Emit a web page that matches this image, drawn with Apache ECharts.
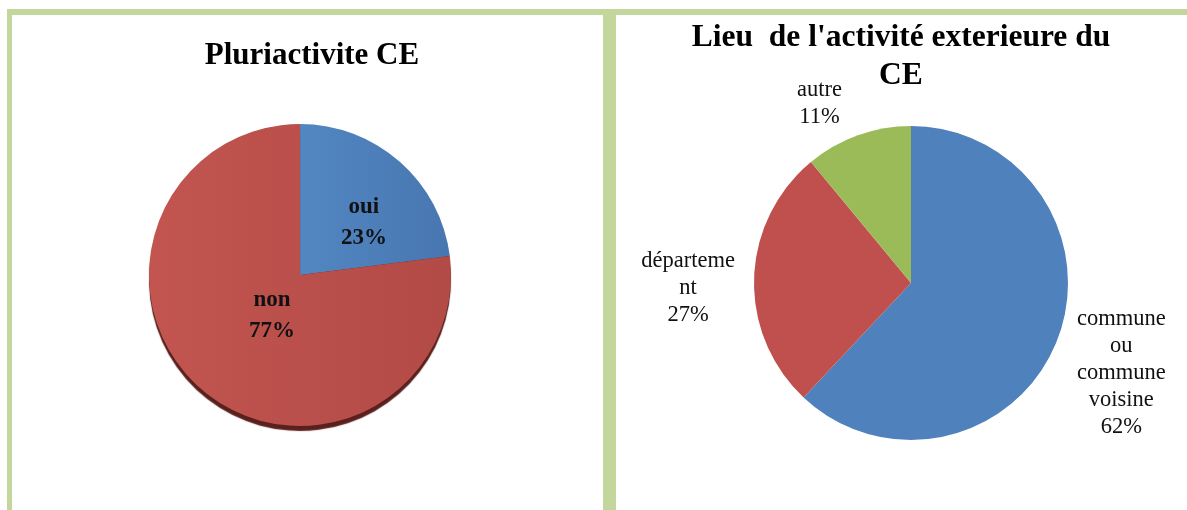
<!DOCTYPE html>
<html><head><meta charset="utf-8">
<script src="https://cdn.jsdelivr.net/npm/echarts@6/dist/echarts.min.js"></script>
<style>html,body{margin:0;padding:0;background:#fff}#c{width:1187px;height:510px}</style>
</head><body><div id="c"></div>
<script>
// ---- data ----
const leftTitle = 'Pluriactivite CE';
const leftCategories = ['oui', 'non'];
const leftValues = [23, 77];

const rightTitle = "Lieu  de l'activité exterieure du\nCE";
const rightCategories = ['commune\nou\ncommune\nvoisine', 'départeme\nnt', 'autre'];
const rightValues = [62, 27, 11];

// ---- styles ----
const SERIF = "'Liberation Serif', 'Times New Roman', 'DejaVu Serif', serif";
const leftColors = [
  new echarts.graphic.LinearGradient(0, 0, 1, 0, [{offset: 0, color: '#5287C2'}, {offset: 1, color: '#4876B0'}]),
  new echarts.graphic.LinearGradient(0, 0, 1, 0, [{offset: 0, color: '#C25550'}, {offset: 1, color: '#B24A46'}])
];
const rightColors = ['#4F81BD', '#C0504D', '#9BBB59'];
const leftLabelShift = [[12, 6], [24, -18]];
const rightLabelShift = [[0, 29], [-1, 10], [20, -22]];

const chart = echarts.init(document.getElementById('c'), null, {renderer: 'canvas'});

const leftData = leftCategories.map((n, i) => ({name: n, value: leftValues[i], itemStyle: {color: leftColors[i]}}));
const rightData = rightCategories.map((n, i) => ({name: n, value: rightValues[i], itemStyle: {color: rightColors[i]}}));

const green = '#C3D69B';
chart.setOption({
  animation: false,
  graphic: [
    {type: 'rect', z: -10, shape: {x: 7, y: 9, width: 1180, height: 6}, style: {fill: green}},
    {type: 'rect', z: -10, shape: {x: 7, y: 9, width: 5, height: 501}, style: {fill: green}},
    {type: 'rect', z: -10, shape: {x: 603, y: 9, width: 13, height: 501}, style: {fill: green}}
  ],
  title: [
    {text: leftTitle, left: 312, top: 38, textAlign: 'center', padding: 0,
     textStyle: {fontFamily: SERIF, fontSize: 31, fontWeight: 'bold', color: '#000', lineHeight: 36}},
    {text: rightTitle, left: 901, top: 19, textAlign: 'center', padding: 0,
     textStyle: {fontFamily: SERIF, fontSize: 31.5, fontWeight: 'bold', color: '#000', lineHeight: 38}}
  ],
  series: [
    {
      type: 'pie', center: [300, 275], radius: 151, startAngle: 90, clockwise: true,
      data: leftData,
      itemStyle: {shadowColor: '#5a201e', shadowBlur: 1, shadowOffsetY: 5},
      emphasis: {disabled: true},
      label: {
        position: 'inside', fontFamily: SERIF, fontSize: 23, fontWeight: 'bold', color: '#111',
        lineHeight: 31,
        formatter: p => p.name + '\n' + Math.round(p.percent) + '%'
      },
      labelLayout: p => ({dx: leftLabelShift[p.dataIndex][0], dy: leftLabelShift[p.dataIndex][1]})
    },
    {
      type: 'pie', center: [911, 283], radius: 157, startAngle: 90, clockwise: true,
      data: rightData,
      emphasis: {disabled: true},
      labelLine: {show: false, length: 10, length2: 0},
      label: {
        position: 'outside', color: '#111',
        formatter: p => (p.name + '\n' + Math.round(p.percent) + '%').split('\n').map(s => '{t|' + s + '}').join('\n'),
        rich: {t: {fontFamily: SERIF, fontSize: 22.5, lineHeight: 27, width: 100, align: 'center', color: '#111'}}
      },
      labelLayout: p => ({dx: rightLabelShift[p.dataIndex][0], dy: rightLabelShift[p.dataIndex][1]})
    }
  ]
});
</script></body></html>
